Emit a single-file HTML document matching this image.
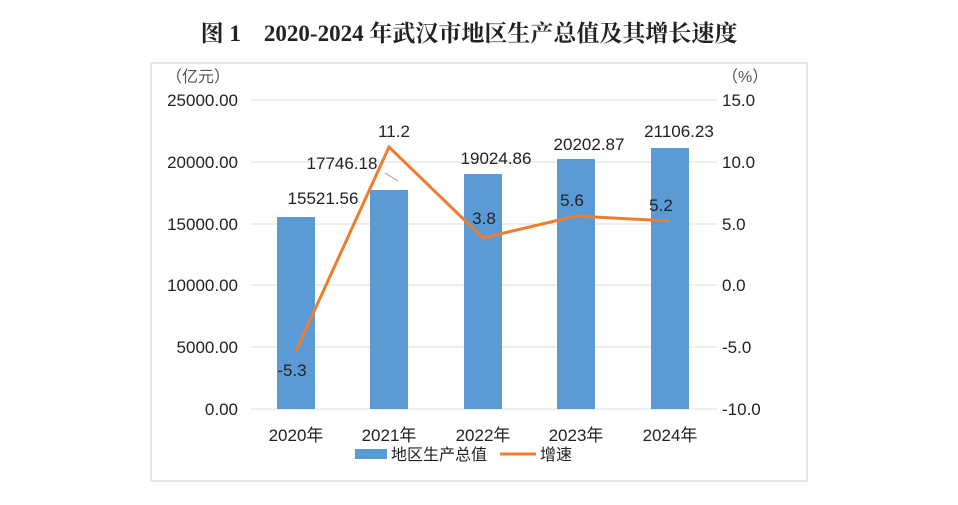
<!DOCTYPE html>
<html><head><meta charset="utf-8"><style>
body{margin:0;background:#fff;width:958px;height:500px;overflow:hidden}
</style></head><body>
<svg width="958" height="500" xmlns="http://www.w3.org/2000/svg" font-family="Liberation Sans, Noto Sans CJK SC, sans-serif">
<text x="469" y="41" text-anchor="middle" font-family="Liberation Serif, Noto Serif CJK SC, serif" font-weight="bold" font-size="23" fill="#222">图 1　2020-2024 年武汉市地区生产总值及其增长速度</text>
<rect x="151" y="63" width="656" height="418" fill="none" stroke="#ddd" stroke-width="1.5"/>
<text x="166" y="82" font-size="16" fill="#555">（亿元）</text>
<text x="722" y="82" font-size="16" fill="#555">（%）</text>
<g stroke="#ddd" stroke-width="1">
<line x1="251" y1="100" x2="717" y2="100"/><line x1="251" y1="162" x2="717" y2="162"/>
<line x1="251" y1="224" x2="717" y2="224"/><line x1="251" y1="285" x2="717" y2="285"/>
<line x1="251" y1="347" x2="717" y2="347"/><line x1="251" y1="409" x2="717" y2="409"/>
</g>
<g font-size="17" fill="#222" text-anchor="end">
<text x="238" y="106">25000.00</text><text x="238" y="168">20000.00</text><text x="238" y="230">15000.00</text>
<text x="238" y="291">10000.00</text><text x="238" y="353">5000.00</text><text x="238" y="415">0.00</text>
</g>
<g font-size="17" fill="#222">
<text x="722" y="106">15.0</text><text x="722" y="168">10.0</text><text x="722" y="230">5.0</text>
<text x="722" y="291">0.0</text><text x="722" y="353">-5.0</text><text x="722" y="415">-10.0</text>
</g>
<g fill="#5b9bd5">
<rect x="277" y="217" width="38" height="192"/>
<rect x="370" y="190" width="38" height="219"/>
<rect x="464" y="174" width="38" height="235"/>
<rect x="557" y="159" width="38" height="250"/>
<rect x="651" y="148" width="38" height="261"/>
</g>
<line x1="385" y1="173" x2="398" y2="181" stroke="#999" stroke-width="1"/>
<polyline points="296,351 389,147 483,238 576,216 670,221" fill="none" stroke="#ed7d31" stroke-width="3"/>
<g font-size="17" fill="#222" text-anchor="middle">
<text x="323" y="204">15521.56</text><text x="342" y="169">17746.18</text>
<text x="496" y="164">19024.86</text><text x="589" y="150">20202.87</text><text x="679" y="137">21106.23</text>
<text x="394" y="137">11.2</text><text x="484" y="224">3.8</text><text x="572" y="206">5.6</text>
<text x="661" y="211">5.2</text><text x="292" y="376">-5.3</text>
</g>
<g font-size="17" fill="#222" text-anchor="middle">
<text x="296" y="441">2020年</text><text x="389" y="441">2021年</text><text x="483" y="441">2022年</text>
<text x="576" y="441">2023年</text><text x="670" y="441">2024年</text>
</g>
<rect x="355" y="449" width="32" height="10" fill="#5b9bd5"/>
<text x="391" y="460" font-size="16" fill="#222">地区生产总值</text>
<line x1="500" y1="454" x2="536" y2="454" stroke="#ed7d31" stroke-width="3"/>
<text x="540" y="460" font-size="16" fill="#222">增速</text>
</svg>
</body></html>
